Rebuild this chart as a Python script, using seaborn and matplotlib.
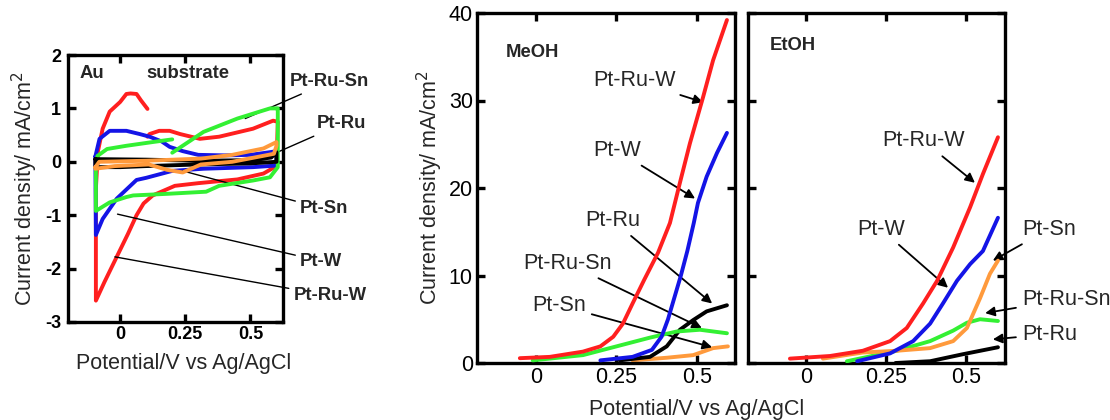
import matplotlib
matplotlib.use("Agg")
import matplotlib.pyplot as plt
import seaborn as sns

# ---------------- data ----------------
# Left panel: CVs on Au substrate (x in V, y in mA/cm2)
cv_ptruw_x = [0.105, 0.08, 0.063, 0.04, 0.024, 0.0, -0.04, -0.067, -0.085, -0.093, -0.093, -0.06, -0.013, 0.03, 0.063, 0.09, 0.125, 0.21, 0.30, 0.45, 0.55, 0.60, 0.605, 0.587, 0.51, 0.38, 0.306, 0.23, 0.19, 0.15, 0.113, 0.105]
cv_ptruw_y = [0.99, 1.15, 1.27, 1.28, 1.27, 1.12, 0.94, 0.62, 0.2, -0.5, -2.6, -2.25, -1.78, -1.35, -1.0, -0.78, -0.63, -0.45, -0.4, -0.33, -0.22, -0.08, 0.75, 0.77, 0.62, 0.47, 0.43, 0.52, 0.58, 0.58, 0.52, 0.47]
cv_ptw_x = [-0.095, -0.079, -0.04, 0.024, 0.075, 0.113, 0.16, 0.19, 0.24, 0.3, 0.4, 0.5, 0.575, 0.6, 0.6, 0.51, 0.32, 0.2, 0.1, 0.063, -0.013, -0.067, -0.093, -0.095]
cv_ptw_y = [0.1, 0.43, 0.58, 0.58, 0.52, 0.47, 0.38, 0.28, 0.2, 0.13, 0.12, 0.13, 0.18, 0.2, -0.07, -0.1, -0.13, -0.17, -0.3, -0.34, -0.69, -1.07, -1.37, 0.1]
cv_ptru_x = [-0.095, 0.1, 0.3, 0.5, 0.58, 0.6, 0.6, 0.5, 0.3, 0.1, 0.0, -0.095, -0.095]
cv_ptru_y = [0.05, 0.04, 0.02, 0.03, 0.08, 0.18, 0.0, -0.03, -0.05, -0.08, -0.1, -0.1, 0.05]
cv_ptrusn_x = [0.2, 0.32, 0.45, 0.575, 0.605, 0.605, 0.575, 0.51, 0.38, 0.33, 0.18, 0.05, 0.024, -0.04, -0.07, -0.093, -0.093, -0.087, -0.05, 0.024, 0.125, 0.2]
cv_ptrusn_y = [0.17, 0.56, 0.81, 1.0, 1.0, -0.1, -0.29, -0.35, -0.45, -0.56, -0.6, -0.63, -0.66, -0.76, -0.85, -0.92, -0.1, 0.11, 0.24, 0.3, 0.37, 0.42]
cv_ptsn_x = [-0.095, -0.08, 0.1, 0.31, 0.43, 0.55, 0.6, 0.6, 0.59, 0.43, 0.31, 0.24, 0.18, 0.11, -0.02, -0.095, -0.095]
cv_ptsn_y = [-0.1, 0.0, 0.02, 0.06, 0.13, 0.25, 0.37, 0.3, 0.15, 0.0, -0.05, -0.2, -0.15, -0.05, -0.08, -0.13, -0.1]

# Middle panel: MeOH oxidation
meoh_ptruw_x = [-0.05, 0.043, 0.146, 0.2, 0.24, 0.27, 0.30, 0.336, 0.379, 0.416, 0.447, 0.478, 0.519, 0.55, 0.593]
meoh_ptruw_y = [0.55, 0.7, 1.3, 1.9, 3.0, 4.5, 6.8, 9.5, 12.6, 16.0, 20.6, 25.1, 30.4, 34.6, 39.2]
meoh_ptw_x = [0.2, 0.30, 0.36, 0.39, 0.41, 0.43, 0.45, 0.47, 0.49, 0.503, 0.53, 0.562, 0.593]
meoh_ptw_y = [0.3, 0.7, 1.5, 3.0, 5.0, 7.5, 10.0, 12.8, 16.0, 18.3, 21.3, 24.0, 26.3]
meoh_ptru_x = [0.26, 0.354, 0.406, 0.447, 0.488, 0.53, 0.593]
meoh_ptru_y = [0.3, 0.7, 1.9, 3.8, 4.9, 5.9, 6.6]
meoh_ptrusn_x = [-0.01, 0.146, 0.25, 0.354, 0.437, 0.509, 0.593]
meoh_ptrusn_y = [0.3, 0.9, 1.9, 2.9, 3.6, 3.8, 3.4]
meoh_ptsn_x = [0.30, 0.406, 0.488, 0.55, 0.596]
meoh_ptsn_y = [0.3, 0.6, 0.9, 1.7, 1.9]

# Right panel: EtOH oxidation
etoh_ptruw_x = [-0.05, 0.075, 0.178, 0.263, 0.315, 0.366, 0.41, 0.46, 0.513, 0.553, 0.6]
etoh_ptruw_y = [0.5, 0.8, 1.4, 2.5, 4.0, 6.8, 9.4, 13.2, 17.8, 21.6, 25.8]
etoh_ptw_x = [0.16, 0.263, 0.335, 0.388, 0.428, 0.472, 0.513, 0.553, 0.6]
etoh_ptw_y = [0.2, 1.1, 2.5, 4.5, 6.8, 9.4, 11.3, 12.8, 16.6]
etoh_ptsn_x = [0.053, 0.178, 0.284, 0.388, 0.46, 0.503, 0.544, 0.575, 0.6]
etoh_ptsn_y = [0.5, 1.2, 1.4, 1.7, 2.5, 4.0, 7.4, 10.2, 11.7]
etoh_ptrusn_x = [0.128, 0.284, 0.388, 0.46, 0.503, 0.544, 0.6]
etoh_ptrusn_y = [0.2, 1.4, 2.5, 3.7, 4.6, 5.0, 4.8]
etoh_ptru_x = [0.28, 0.388, 0.49, 0.6]
etoh_ptru_y = [0.0, 0.2, 1.0, 1.8]

x_ticks = [0, 0.25, 0.5]
x_ticklabels = ["0", "0.25", "0.5"]
cv_yticks = [-3, -2, -1, 0, 1, 2]
ox_yticks = [0, 10, 20, 30, 40]

# ---------------- style ----------------
sns.set_theme(style="ticks")
plt.rcParams["font.family"] = ["Liberation Sans", "DejaVu Sans"]
plt.rcParams["axes.unicode_minus"] = False

RED = "#ff1f1f"
BLUE = "#1414e6"
GREEN = "#33f033"
BLACK = "#000000"
ORANGE = "#ff9a3c"
LW = 2.8

fig = plt.figure(figsize=(11.1, 4.2), dpi=100)
ax1 = fig.add_axes([68/1110, 1-322/420, 215/1110, 267/420])
ax2 = fig.add_axes([477/1110, 1-363/420, 258/1110, 350/420])
ax3 = fig.add_axes([748/1110, 1-363/420, 257/1110, 350/420])


def line(ax, x, y, c, z=2):
    sns.lineplot(x=x, y=y, ax=ax, color=c, lw=LW, sort=False, estimator=None,
                 legend=False, zorder=z)


def frame(ax, fs, bold):
    for s in ax.spines.values():
        s.set_linewidth(2.4)
        s.set_color("black")
    ax.tick_params(direction="in", length=6, width=2.4, top=True, right=True,
                   labelsize=fs, pad=3, colors="black")
    for lab in ax.get_xticklabels() + ax.get_yticklabels():
        lab.set_fontweight("bold" if bold else "normal")


# ---- left panel ----
line(ax1, cv_ptruw_x, cv_ptruw_y, RED, 2)
line(ax1, cv_ptw_x, cv_ptw_y, BLUE, 3)
line(ax1, cv_ptrusn_x, cv_ptrusn_y, GREEN, 4)
line(ax1, cv_ptru_x, cv_ptru_y, BLACK, 5)
line(ax1, cv_ptsn_x, cv_ptsn_y, ORANGE, 6)
ax1.set_xlim(-0.2, 0.625)
ax1.set_ylim(-3, 2)
ax1.set_xticks(x_ticks)
ax1.set_xticklabels(x_ticklabels)
ax1.set_yticks(cv_yticks)
ax1.set_yticklabels([str(v) for v in cv_yticks])
frame(ax1, 13, True)
ax1.tick_params(axis="y", pad=5)
ax1.set_xlabel("Potential/V vs Ag/AgCl", fontsize=15.5, va="center")
ax1.xaxis.set_label_coords(0.54, -0.154)
ax1.set_ylabel("Current density/ mA/cm$^2$", fontsize=15.5, va="center")
ax1.yaxis.set_label_coords(-0.2, 0.5)
ax1.text(-0.156, 1.65, "Au", fontsize=13.3, fontweight="bold", va="center", ha="left")
ax1.text(0.10, 1.65, "substrate", fontsize=13.3, fontweight="bold", va="center", ha="left")

cv_labels = [("Pt-Ru-Sn", (0.48, 0.81), (0.652, 1.5)),
             ("Pt-Ru", (0.59, 0.15), (0.756, 0.71)),
             ("Pt-Sn", (0.24, -0.17), (0.69, -0.88)),
             ("Pt-W", (-0.01, -0.98), (0.69, -1.86)),
             ("Pt-Ru-W", (-0.02, -1.78), (0.665, -2.51))]
for txt, xy, xyt in cv_labels:
    ax1.annotate(txt, xy=xy, xytext=xyt, fontsize=13.3, fontweight="bold",
                 ha="left", va="center", annotation_clip=False,
                 arrowprops=dict(arrowstyle="-", color="black", lw=1.0,
                                 shrinkA=1, shrinkB=0))

# ---- middle panel ----
line(ax2, meoh_ptsn_x, meoh_ptsn_y, ORANGE, 2)
line(ax2, meoh_ptru_x, meoh_ptru_y, BLACK, 3)
line(ax2, meoh_ptrusn_x, meoh_ptrusn_y, GREEN, 4)
line(ax2, meoh_ptw_x, meoh_ptw_y, BLUE, 5)
line(ax2, meoh_ptruw_x, meoh_ptruw_y, RED, 6)
ax2.set_xlim(-0.183, 0.618)
ax2.set_ylim(0, 40)
ax2.set_xticks(x_ticks)
ax2.set_xticklabels(x_ticklabels)
ax2.set_yticks(ox_yticks)
frame(ax2, 15.5, False)
ax2.set_xlabel("")
ax2.set_ylabel("Current density/ mA/cm$^2$", fontsize=15.5, va="center")
ax2.yaxis.set_label_coords(-0.182, 0.5)
ax2.text(-0.093, 35.5, "MeOH", fontsize=13.3, fontweight="bold", va="center", ha="left")

arrow_kw = dict(arrowstyle="-|>", color="black", lw=1.3, mutation_scale=14,
                shrinkA=2, shrinkB=0)
meoh_labels = [("Pt-Ru-W", (0.519, 29.8), (0.177, 32.3)),
               ("Pt-W", (0.494, 18.8), (0.177, 24.3)),
               ("Pt-Ru", (0.547, 6.8), (0.152, 16.3)),
               ("Pt-Ru-Sn", (0.515, 4.0), (-0.04, 11.4)),
               ("Pt-Sn", (0.547, 1.8), (-0.012, 6.6))]
for txt, xy, xyt in meoh_labels:
    ax2.annotate(txt, xy=xy, xytext=xyt, fontsize=15.5, ha="left", va="center",
                 annotation_clip=False, arrowprops=arrow_kw)

# ---- right panel ----
line(ax3, etoh_ptru_x, etoh_ptru_y, BLACK, 2)
line(ax3, etoh_ptrusn_x, etoh_ptrusn_y, GREEN, 3)
line(ax3, etoh_ptsn_x, etoh_ptsn_y, ORANGE, 4)
line(ax3, etoh_ptw_x, etoh_ptw_y, BLUE, 5)
line(ax3, etoh_ptruw_x, etoh_ptruw_y, RED, 6)
ax3.set_xlim(-0.181, 0.622)
ax3.set_ylim(0, 40)
ax3.set_xticks(x_ticks)
ax3.set_xticklabels(x_ticklabels)
ax3.set_yticks(ox_yticks)
frame(ax3, 15.5, False)
ax3.set_yticklabels([])
ax3.set_xlabel("")
ax3.set_ylabel("")
ax3.text(-0.1125, 36.3, "EtOH", fontsize=13.3, fontweight="bold", va="center", ha="left")

etoh_labels = [("Pt-Ru-W", (0.528, 20.6), (0.2375, 25.4)),
               ("Pt-W", (0.444, 8.6), (0.16, 15.3)),
               ("Pt-Sn", (0.584, 11.7), (0.675, 15.3)),
               ("Pt-Ru-Sn", (0.56, 5.7), (0.675, 7.3)),
               ("Pt-Ru", (0.584, 2.7), (0.675, 3.3))]
for txt, xy, xyt in etoh_labels:
    ax3.annotate(txt, xy=xy, xytext=xyt, fontsize=15.5, ha="left", va="center",
                 annotation_clip=False, arrowprops=arrow_kw)

fig.text(697/1110, 1-410/420, "Potential/V vs Ag/AgCl", fontsize=15.5,
         ha="center", va="center")

fig.savefig("out.png", dpi=100)
